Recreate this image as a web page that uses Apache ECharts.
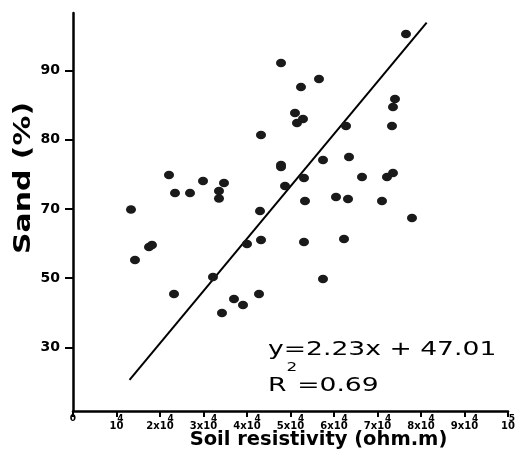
<!DOCTYPE html>
<html>
<head>
<meta charset="utf-8">
<script src="https://cdn.jsdelivr.net/npm/echarts@6/dist/echarts.min.js"></script>
<style>
html,body{margin:0;padding:0;background:#fff;}
#chart{width:516px;height:452px;}
</style>
</head>
<body>
<div id="chart"></div>
<script>
// Soil resistivity (x 10^4 ohm.m)
const resistivity = [7.655, 4.782, 5.655, 5.241, 7.402, 7.356, 5.103, 5.287, 5.149, 6.276,
  7.333, 4.322, 6.345, 5.747, 4.782, 4.782, 7.356, 2.207, 6.644, 7.218,
  5.310, 2.989, 3.471, 4.874, 3.356, 2.345, 2.690, 6.046, 3.356, 6.322,
  5.333, 7.103, 1.333, 4.299, 7.793, 6.230, 4.322, 5.310, 4.000, 1.747,
  1.816, 1.425, 3.218, 5.747, 2.322, 4.276, 3.701, 3.908, 3.425];
// Sand (%) in the plotted axis scale
const sand = [95.27, 91.08, 88.77, 87.61, 85.88, 84.72, 83.85, 82.99, 82.41, 81.98,
  81.98, 80.67, 77.50, 77.06, 76.34, 76.05, 75.19, 74.90, 74.61, 74.61,
  74.46, 74.03, 73.74, 73.31, 72.58, 72.30, 72.30, 71.72, 71.50, 71.43,
  71.14, 71.14, 69.91, 69.70, 68.68, 65.65, 65.51, 65.22, 64.93, 64.49,
  64.78, 62.62, 60.16, 59.87, 57.70, 57.70, 56.98, 56.12, 54.96];
// Regression line end points
const fitX = [1.30, 8.13];
const fitY = [45.3, 96.9];
// Tick labels
const xTickBase = ['0', '10', '2x10', '3x10', '4x10', '5x10', '6x10', '7x10', '8x10', '9x10', '10'];
const xTickExp  = ['',  '4',  '4',    '4',    '4',    '4',    '4',    '4',    '4',    '4',    '5'];
const yTickValues = [50, 60, 70, 80, 90];
const yTickLabels = ['30', '50', '70', '80', '90'];
const equationText = 'y=2.23x + 47.01';
const r2Value = '0.69';
const xTitle = 'Soil resistivity (ohm.m)';
const yTitle = 'Sand (%)';

const FONT = 'DejaVu Sans';
const points = resistivity.map((x, i) => [x, sand[i]]);
const fitLine = fitX.map((x, i) => [x, fitY[i]]);

const chart = echarts.init(document.getElementById('chart'), null, {renderer: 'canvas'});
chart.setOption({
  animation: false,
  backgroundColor: '#ffffff',
  grid: {left: 73, right: 8, top: 13, bottom: 41, containLabel: false, outerBoundsMode: 'none'},
  xAxis: {
    type: 'value', min: 0, max: 10, interval: 1,
    name: xTitle, nameLocation: 'middle', nameGap: 19, nameMoveOverlap: false,
    nameTextStyle: {fontFamily: FONT, fontWeight: 'bold', fontSize: 19.5, color: '#000', padding: [0, 0, 0, 56]},
    axisLine: {show: true, onZero: false, lineStyle: {color: '#000', width: 2.5}},
    axisTick: {show: true, length: 6, lineStyle: {color: '#000', width: 2}},
    splitLine: {show: false},
    axisLabel: {
      show: true, margin: 5, showMinLabel: true, showMaxLabel: true, hideOverlap: false,
      fontFamily: FONT, fontWeight: 'bold', color: '#000',
      formatter: function (v) {
        const i = Math.round(v);
        if (i === 0) return '{z|0}\n{b| }';
        return '{s|' + xTickExp[i] + '}\n{b|' + xTickBase[i] + '}';
      },
      rich: {
        z: {fontFamily: FONT, fontWeight: 'bold', fontSize: 9, lineHeight: 6, color: '#000'},
        s: {fontFamily: FONT, fontWeight: 'bold', fontSize: 9, lineHeight: 6, align: 'right', color: '#000'},
        b: {fontFamily: FONT, fontWeight: 'bold', fontSize: 10, lineHeight: 9, color: '#000'}
      }
    }
  },
  yAxis: {
    type: 'value', min: 40.8, max: 98.3,
    axisLine: {show: true, onZero: false, lineStyle: {color: '#000', width: 2.5}},
    axisTick: {show: true, length: 8, customValues: yTickValues, lineStyle: {color: '#000', width: 2}},
    splitLine: {show: false},
    axisLabel: {
      show: true, margin: 13, customValues: yTickValues,
      fontFamily: FONT, fontWeight: 'bold', fontSize: 14, color: '#000',
      formatter: function (v) {
        const i = yTickValues.indexOf(Math.round(v));
        return i >= 0 ? yTickLabels[i] : '';
      }
    }
  },
  series: [
    {
      type: 'line', data: fitLine, showSymbol: false, silent: true, z: 2,
      lineStyle: {color: '#000', width: 2}
    },
    {
      type: 'scatter', data: points, symbol: 'circle', symbolSize: [10, 8.5], z: 3,
      itemStyle: {color: '#1a1a1a', opacity: 1}
    }
  ],
  graphic: [
    {
      type: 'text', x: 24, y: 178, rotation: Math.PI / 2, scaleX: 1.3, scaleY: 1,
      style: {text: yTitle, font: 'bold 23px "DejaVu Sans"', fill: '#000', textAlign: 'center', textVerticalAlign: 'middle'}
    },
    {
      type: 'text', x: 268, y: 350, scaleX: 1.4, scaleY: 1,
      style: {text: equationText, font: '19px "DejaVu Sans"', fill: '#000', textAlign: 'left', textVerticalAlign: 'middle'}
    },
    {
      type: 'text', x: 268, y: 362, scaleX: 1.4, scaleY: 1,
      style: {
        text: '{a|R}{s|2}{a|=' + r2Value + '}',
        fill: '#000', textAlign: 'left', textVerticalAlign: 'top',
        rich: {
          a: {fontFamily: FONT, fontSize: 19, lineHeight: 34, verticalAlign: 'bottom', fill: '#000'},
          s: {fontFamily: FONT, fontSize: 12, lineHeight: 14, verticalAlign: 'top', fill: '#000'}
        }
      }
    }
  ]
});
</script>
</body>
</html>
